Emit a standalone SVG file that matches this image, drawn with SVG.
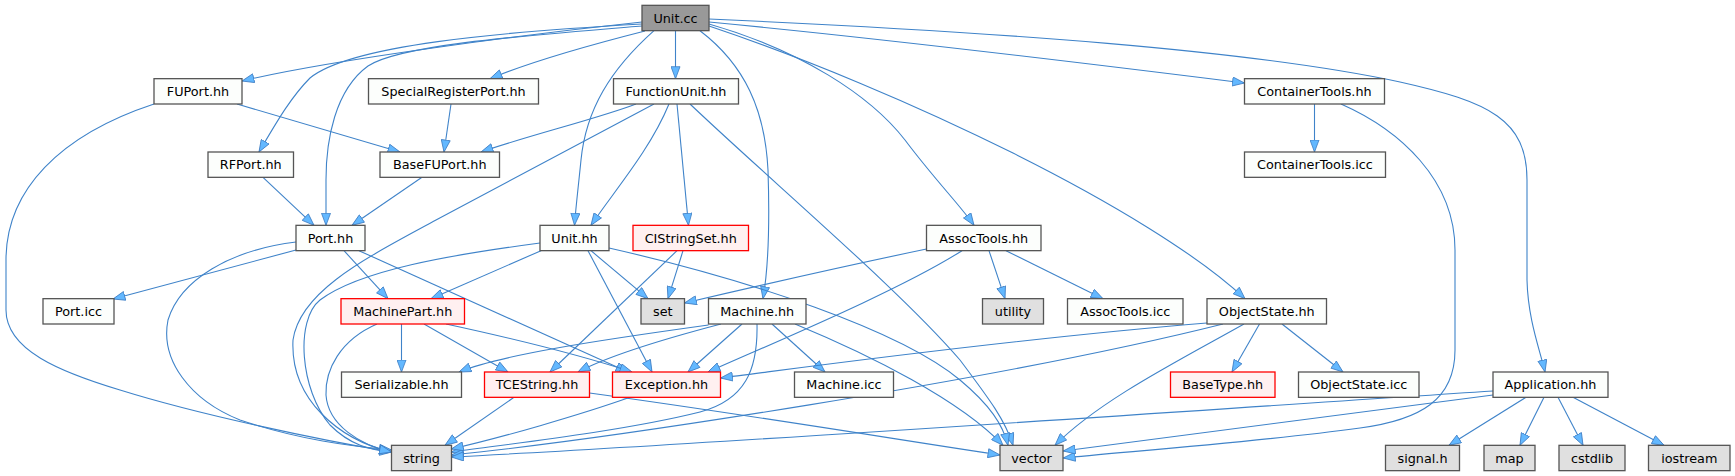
<svg xmlns="http://www.w3.org/2000/svg" width="1735" height="476" viewBox="0 0 1735 476">
<style>
.node rect{fill:#fcfefc;stroke:#555555;stroke-width:1.3}
.root rect{fill:#999999;stroke:#555555}
.sys rect{fill:#e0e0e0;stroke:#555555}
.trunc rect{fill:#fff0f0;stroke:#ff0000}
.node text{font-family:"DejaVu Sans","Liberation Sans",sans-serif;font-size:12.8px;text-anchor:middle;fill:#000}
#edges path{fill:none;stroke:#3f83c9;stroke-width:1.1;marker-end:url(#arr)}
</style>
<defs>
<marker id="arr" markerUnits="userSpaceOnUse" viewBox="0 0 13 10" markerWidth="13" markerHeight="10" refX="12.5" refY="5" orient="auto">
<path d="M0.5,0.5 L12.5,5 L0.5,9.5 z" fill="#63b8ff" stroke="#3d7cc2" stroke-width="0.8"/>
</marker>
</defs>
<rect width="1735" height="476" fill="#ffffff"/>
<g id="edges">
<path d="M642,22 C520,35 330,60 242,81"/>
<path d="M642,24 C500,32 350,45 310,78 C290,98 275,125 259,152"/>
<path d="M642,26 C520,36 400,45 368,66 C335,90 326,140 326,180 L326,225.3"/>
<path d="M645,31 C590,45 530,62 490,78.7"/>
<path d="M675.5,30.7 L675.5,78.7"/>
<path d="M654,30.7 C610,70 586,110 581,160 C578,190 576,205 574.5,225.3"/>
<path d="M700,30.7 C745,65 765,110 768,170 C770,230 768,270 763,298.7"/>
<path d="M709,24 C800,50 870,95 905,140 C935,180 960,205 974,225.3"/>
<path d="M709,26 C900,90 1150,210 1245,298.7"/>
<path d="M709,22 C900,40 1100,65 1244.5,83"/>
<path d="M709,19 C1000,32 1250,50 1400,82 C1490,102 1527,120 1527,180 L1527,280 C1528,320 1540,350 1545,372"/>
<path d="M237,104 L400,152"/>
<path d="M154,104 C60,135 6,190 6,260 L6,310 C6,350 60,372 120,390 C200,415 320,440 391.5,452"/>
<path d="M451,104 L444,152"/>
<path d="M263,177.3 L314,225.3"/>
<path d="M422,177.3 L352,225.3"/>
<path d="M636,104 C600,118 530,135 481,152"/>
<path d="M654,104 L436,220 C370,256 300,290 293,340 C290,400 340,440 391.5,452"/>
<path d="M669,104 C650,150 615,190 591,225.3"/>
<path d="M677,104 L688.5,225.3"/>
<path d="M690,104 C770,180 900,290 960,360 C990,400 1005,420 1013,445.3"/>
<path d="M1314.5,104 L1314.5,152"/>
<path d="M1341,104 C1400,130 1455,180 1455,250 L1455,350 C1455,400 1420,420 1360,428 C1250,443 1120,452 1063.2,458"/>
<path d="M296,250 L113,299"/>
<path d="M296,242 C230,250 180,280 168,320 C160,360 190,400 240,420 C300,440 350,446 391.5,450"/>
<path d="M344,250.7 L388,298.7"/>
<path d="M359,250.7 L628,372"/>
<path d="M541,250.7 L431,298.7"/>
<path d="M540,243 C450,255 360,270 320,300 C295,320 300,390 330,425 C350,445 370,450 391.5,452"/>
<path d="M591,250.7 L648,298.7"/>
<path d="M588,250.7 L652,372"/>
<path d="M609,248 C750,280 900,330 960,380 C990,405 1003,425 1008,445.3"/>
<path d="M683,250.7 L668,298.7"/>
<path d="M677,250.7 L550,372"/>
<path d="M926.5,249 C850,265 740,290 684.5,303"/>
<path d="M962,250.7 C900,290 780,340 708,372"/>
<path d="M989,250.7 L1005,298.7"/>
<path d="M1006,250.7 L1103,298.7"/>
<path d="M401.5,324 L401.5,372"/>
<path d="M424,324 L508,372"/>
<path d="M446,324 C520,340 580,355 632,372"/>
<path d="M377,324 C340,340 325,370 326,395 C328,425 360,445 391.5,452"/>
<path d="M708.5,325 C600,340 500,355 459,372"/>
<path d="M721,324 C660,340 610,355 578,372"/>
<path d="M742,324 L688,372"/>
<path d="M772,324 L825,372"/>
<path d="M795,324 C870,355 960,400 1003,445.3"/>
<path d="M757,324 C758,370 745,400 700,412 C620,432 500,445 451.3,452"/>
<path d="M1207,323 C1000,340 800,368 720.5,378"/>
<path d="M1223,324 C1000,380 600,440 451.3,455"/>
<path d="M1244,324 C1180,360 1100,400 1055,445.3"/>
<path d="M1259.5,324 L1232,372"/>
<path d="M1282,324 L1343,372"/>
<path d="M514,397.3 L445,445.3"/>
<path d="M589.5,393 C750,415 900,440 1000,455"/>
<path d="M630,397.3 C580,415 500,438 451.3,449"/>
<path d="M1493,391 C1200,410 700,445 451.3,457"/>
<path d="M1493,395 C1300,420 1150,440 1063.2,451"/>
<path d="M1526,397.3 L1449,445.3"/>
<path d="M1544,397.3 L1520,445.3"/>
<path d="M1558,397.3 L1583,445.3"/>
<path d="M1573,397.3 L1664,445.3"/>
</g>
<g id="n_unitcc" class="node root"><rect x="642" y="5.33" width="67" height="25.33"/><text x="675.5" y="22.6">Unit.cc</text></g>
<g id="n_fuport" class="node"><rect x="154" y="78.67" width="88" height="25.33"/><text x="198" y="95.9">FUPort.hh</text></g>
<g id="n_srport" class="node"><rect x="368.5" y="78.67" width="170" height="25.33"/><text x="453.5" y="95.9">SpecialRegisterPort.hh</text></g>
<g id="n_funit" class="node"><rect x="613.5" y="78.67" width="125" height="25.33"/><text x="676" y="95.9">FunctionUnit.hh</text></g>
<g id="n_ctools" class="node"><rect x="1244.5" y="78.67" width="140" height="25.33"/><text x="1314.5" y="95.9">ContainerTools.hh</text></g>
<g id="n_rfport" class="node"><rect x="208" y="152" width="85.5" height="25.33"/><text x="250.75" y="169.2">RFPort.hh</text></g>
<g id="n_basefu" class="node"><rect x="380" y="152" width="119.5" height="25.33"/><text x="439.75" y="169.2">BaseFUPort.hh</text></g>
<g id="n_ctoolsicc" class="node"><rect x="1244.5" y="152" width="141" height="25.33"/><text x="1315" y="169.2">ContainerTools.icc</text></g>
<g id="n_port" class="node"><rect x="296" y="225.33" width="69" height="25.33"/><text x="330.5" y="242.6">Port.hh</text></g>
<g id="n_unithh" class="node"><rect x="540" y="225.33" width="69" height="25.33"/><text x="574.5" y="242.6">Unit.hh</text></g>
<g id="n_cistr" class="node trunc"><rect x="633" y="225.33" width="115.5" height="25.33"/><text x="690.75" y="242.6">CIStringSet.hh</text></g>
<g id="n_assoc" class="node"><rect x="926.5" y="225.33" width="114.5" height="25.33"/><text x="983.75" y="242.6">AssocTools.hh</text></g>
<g id="n_porticc" class="node"><rect x="43" y="298.67" width="71" height="25.33"/><text x="78.5" y="315.9">Port.icc</text></g>
<g id="n_mpart" class="node trunc"><rect x="341" y="298.67" width="123.5" height="25.33"/><text x="402.75" y="315.9">MachinePart.hh</text></g>
<g id="n_set" class="node sys"><rect x="641" y="298.67" width="43.5" height="25.33"/><text x="662.75" y="315.9">set</text></g>
<g id="n_machine" class="node"><rect x="708.5" y="298.67" width="97.5" height="25.33"/><text x="757.25" y="315.9">Machine.hh</text></g>
<g id="n_utility" class="node sys"><rect x="982.5" y="298.67" width="61" height="25.33"/><text x="1013" y="315.9">utility</text></g>
<g id="n_associcc" class="node"><rect x="1067.5" y="298.67" width="115.5" height="25.33"/><text x="1125.25" y="315.9">AssocTools.icc</text></g>
<g id="n_ostate" class="node"><rect x="1207" y="298.67" width="119.5" height="25.33"/><text x="1266.75" y="315.9">ObjectState.hh</text></g>
<g id="n_serial" class="node"><rect x="341.5" y="372" width="120" height="25.33"/><text x="401.5" y="389.2">Serializable.hh</text></g>
<g id="n_tcestr" class="node trunc"><rect x="484.5" y="372" width="105" height="25.33"/><text x="537" y="389.2">TCEString.hh</text></g>
<g id="n_except" class="node trunc"><rect x="612.5" y="372" width="108" height="25.33"/><text x="666.5" y="389.2">Exception.hh</text></g>
<g id="n_machicc" class="node"><rect x="794.5" y="372" width="99" height="25.33"/><text x="844" y="389.2">Machine.icc</text></g>
<g id="n_basetype" class="node trunc"><rect x="1170.5" y="372" width="104.5" height="25.33"/><text x="1222.75" y="389.2">BaseType.hh</text></g>
<g id="n_ostateicc" class="node"><rect x="1298.5" y="372" width="120.5" height="25.33"/><text x="1358.75" y="389.2">ObjectState.icc</text></g>
<g id="n_app" class="node"><rect x="1493" y="372" width="115" height="25.33"/><text x="1550.5" y="389.2">Application.hh</text></g>
<g id="n_string" class="node sys"><rect x="391.5" y="445.33" width="60" height="25.33"/><text x="421.5" y="462.6">string</text></g>
<g id="n_vector" class="node sys"><rect x="1000" y="445.33" width="63" height="25.33"/><text x="1031.5" y="462.6">vector</text></g>
<g id="n_signal" class="node sys"><rect x="1385.5" y="445.33" width="74" height="25.33"/><text x="1422.5" y="462.6">signal.h</text></g>
<g id="n_map" class="node sys"><rect x="1484" y="445.33" width="51" height="25.33"/><text x="1509.5" y="462.6">map</text></g>
<g id="n_cstdlib" class="node sys"><rect x="1559" y="445.33" width="66" height="25.33"/><text x="1592" y="462.6">cstdlib</text></g>
<g id="n_iostream" class="node sys"><rect x="1648.5" y="445.33" width="81.5" height="25.33"/><text x="1689.25" y="462.6">iostream</text></g>
</svg>
